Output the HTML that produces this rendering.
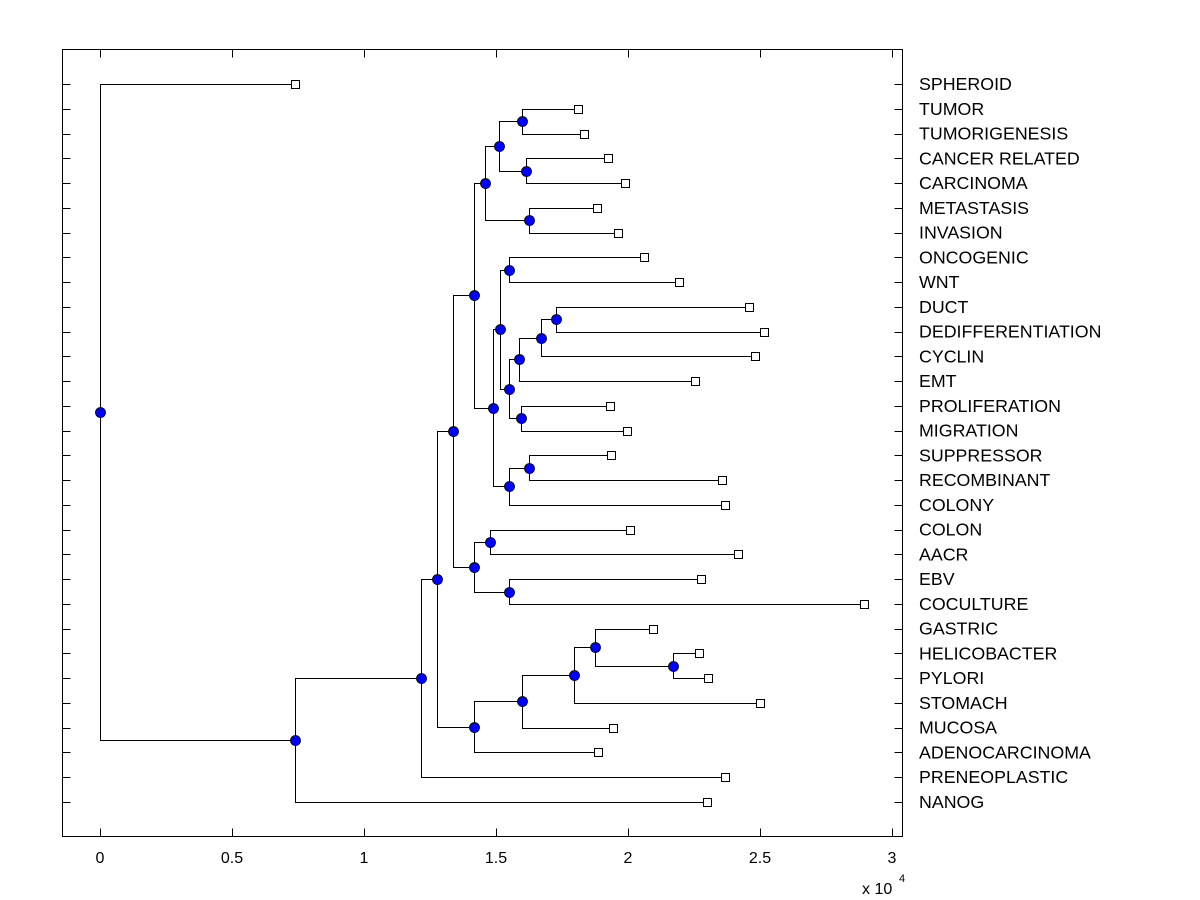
<!DOCTYPE html>
<html><head><meta charset="utf-8">
<style>
html,body{margin:0;padding:0;background:#fff;}
svg{display:block;}
text{font-family:"Liberation Sans",Arial,sans-serif;}
</style></head>
<body>
<svg id="chart" width="1200" height="900" xmlns="http://www.w3.org/2000/svg">
<rect x="62.5" y="49.5" width="840" height="787" fill="#fff" stroke="#000" stroke-width="1" shape-rendering="crispEdges"/>
<g id="ticks" shape-rendering="crispEdges"></g>
<g id="ticklabels"></g>
<g id="links" shape-rendering="crispEdges"></g>
<g id="nodes"></g>
<g id="labels"></g>
<text x="862" y="894" font-size="16">x 10</text>
<text x="899" y="882" font-size="11">4</text>
</svg>
<script>
const leafLabels = ["SPHEROID","TUMOR","TUMORIGENESIS","CANCER RELATED","CARCINOMA","METASTASIS","INVASION","ONCOGENIC","WNT","DUCT","DEDIFFERENTIATION","CYCLIN","EMT","PROLIFERATION","MIGRATION","SUPPRESSOR","RECOMBINANT","COLONY","COLON","AACR","EBV","COCULTURE","GASTRIC","HELICOBACTER","PYLORI","STOMACH","MUCOSA","ADENOCARCINOMA","PRENEOPLASTIC","NANOG"];
const leafValues = [0.739,1.81,1.833,1.924,1.989,1.883,1.962,2.061,2.193,2.458,2.515,2.481,2.254,1.932,1.996,1.936,2.356,2.367,2.008,2.417,2.277,2.894,2.095,2.269,2.303,2.5,1.943,1.886,2.367,2.299];
const mergeLeft  = [1,3,30,5,32,7,9,36,37,13,38,35,15,42,41,34,18,20,46,45,23,22,51,52,53,49,55,56,0];
const mergeRight = [2,4,31,6,33,8,10,11,12,14,39,40,16,17,43,44,19,21,47,48,24,50,25,26,27,54,28,29,57];
const mergeHeights = [1.598,1.614,1.511,1.625,1.458,1.549,1.727,1.670,1.587,1.595,1.549,1.515,1.625,1.549,1.489,1.417,1.477,1.549,1.417,1.337,2.17,1.875,1.795,1.598,1.417,1.277,1.216,0.739,0];
const xTickValues = [0,0.5,1,1.5,2,2.5,3];
const xTickLabels = ["0","0.5","1","1.5","2","2.5","3"];

const NS="http://www.w3.org/2000/svg";
const X0=100, XS=264, Y0=84, YS=(802-84)/29;
const xs=v=>X0+v*XS;
const ys=i=>Y0+i*YS;
const r5=v=>Math.round(v)+0.5;
function mk(tag,attrs,parent){const e=document.createElementNS(NS,tag);for(const k in attrs)e.setAttribute(k,attrs[k]);document.getElementById(parent).appendChild(e);return e;}

for(let i=0;i<leafLabels.length;i++){
  const y=r5(ys(i));
  let t=mk('line',{x1:62.5,x2:70.5,y1:y,y2:y,stroke:'#000'},'ticks');
  
  
  t=mk('line',{x1:894.5,x2:902.5,y1:y,y2:y,stroke:'#000'},'ticks');
  
  
  const lb=mk('text',{x:919,y:ys(i)+6,'font-size':17.8},'labels');
  lb.textContent=leafLabels[i];
  
  
}
for(let i=0;i<xTickValues.length;i++){
  const x=r5(xs(xTickValues[i]));
  let t=mk('line',{x1:x,x2:x,y1:836.5,y2:828.5,stroke:'#000'},'ticks');
  
  
  t=mk('line',{x1:x,x2:x,y1:49.5,y2:57.5,stroke:'#000'},'ticks');
  
  
  const lb=mk('text',{x:xs(xTickValues[i]),y:863,'font-size':16,'text-anchor':'middle'},'ticklabels');
  lb.textContent=xTickLabels[i];
  
  
}

const px=[],py=[];
for(let i=0;i<leafValues.length;i++){px.push(xs(leafValues[i]));py.push(ys(i));}
const n=leafValues.length;
for(let k=0;k<mergeHeights.length;k++){
  const a=mergeLeft[k],b=mergeRight[k];
  const x=xs(mergeHeights[k]), y=(py[a]+py[b])/2;
  px.push(x);py.push(y);
  const p=mk('path',{d:`M${r5(px[a])},${r5(py[a])}H${r5(x)}V${r5(py[b])}H${r5(px[b])}`,fill:'none',stroke:'#000','stroke-width':1},'links');
  
  
}
for(let k=0;k<mergeHeights.length;k++){
  const c=mk('circle',{cx:r5(px[n+k]),cy:r5(py[n+k]),r:5,fill:'#0000ff',stroke:'#000','stroke-width':0.8},'nodes');
  
  
}
for(let i=0;i<n;i++){
  const s=mk('rect',{x:r5(px[i])-4,y:r5(py[i])-4,width:8,height:8,fill:'#fff',stroke:'#000','stroke-width':1,'shape-rendering':'crispEdges'},'nodes');
  
  
}
</script>
</body></html>
